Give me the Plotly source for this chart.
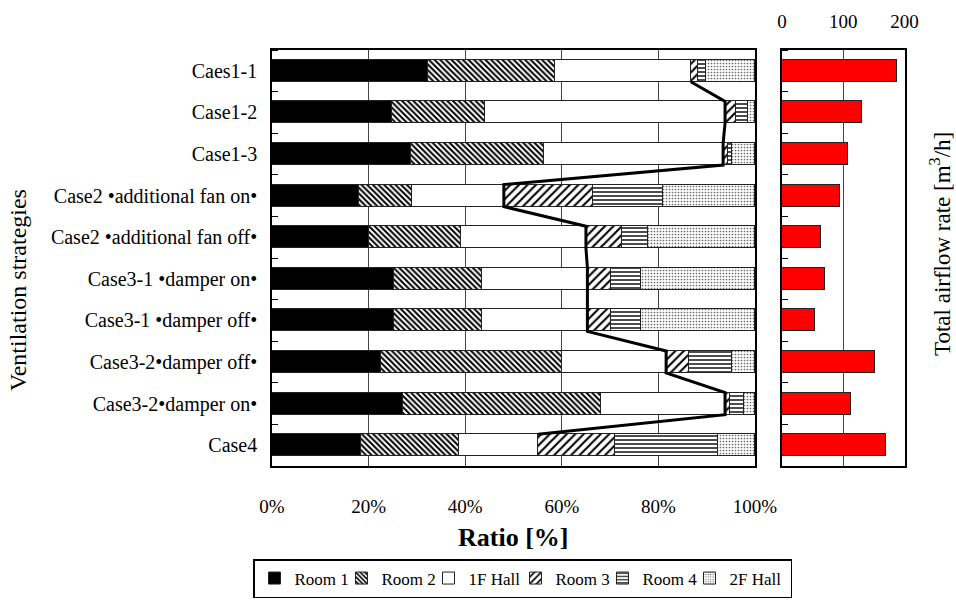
import plotly.graph_objects as go
import numpy as np

cases = ["Caes1-1", "Case1-2", "Case1-3", "Case2 \u2022additional fan on\u2022",
         "Case2 \u2022additional fan off\u2022", "Case3-1 \u2022damper on\u2022",
         "Case3-1 \u2022damper off\u2022", "Case3-2\u2022damper off\u2022",
         "Case3-2\u2022damper on\u2022", "Case4"]
room1 = [32.2, 24.8, 28.8, 18.0, 20.1, 25.3, 25.3, 22.5, 27.2, 18.4]
room2 = [26.4, 19.3, 27.6, 11.0, 19.0, 18.2, 18.2, 37.6, 40.9, 20.4]
hall1f = [28.1, 49.7, 37.0, 19.0, 25.9, 21.8, 21.8, 21.5, 25.7, 16.3]
room3 = [1.6, 2.3, 1.1, 18.5, 7.4, 4.9, 4.9, 4.8, 1.0, 15.9]
room4 = [1.5, 2.4, 0.8, 14.5, 5.5, 6.1, 6.1, 8.9, 2.9, 21.4]
hall2f = [10.2, 1.5, 4.7, 19.0, 22.1, 23.7, 23.7, 4.7, 2.3, 7.6]
airflow = [187, 131, 108, 94, 63, 71, 54, 152, 112, 169]
ratio_ticks = [0, 20, 40, 60, 80, 100]
ratio_ticktext = ["0%", "20%", "40%", "60%", "80%", "100%"]
flow_ticks = [0, 100, 200]

FONT = "Liberation Serif, Times New Roman, serif"
BW = 0.53
ypos = np.arange(len(cases))

fig = go.Figure()

series = [
    ("Room 1", room1, dict(color="black")),
    ("Room 2", room2, dict(color="white", pattern=dict(shape="\\", size=4, solidity=0.5, fgcolor="black", bgcolor="white"))),
    ("1F Hall", hall1f, dict(color="white")),
    ("Room 3", room3, dict(color="white", pattern=dict(shape="/", size=6, solidity=0.35, fgcolor="black", bgcolor="white"))),
    ("Room 4", room4, dict(color="white", pattern=dict(shape="-", size=4, solidity=0.35, fgcolor="black", bgcolor="white"))),
    ("2F Hall", hall2f, dict(color="white", pattern=dict(shape=".", size=3, solidity=0.25, fgcolor="#666", bgcolor="white"))),
]
for k, (name, vals, mk) in enumerate(series):
    mk = dict(mk)
    mk["line"] = dict(color="#222", width=1)
    extra = {"legendwidth": 56} if k == len(series) - 1 else {}
    fig.add_trace(go.Bar(y=ypos, x=vals, orientation="h", name=name, width=BW,
                         marker=mk, xaxis="x", yaxis="y", **extra))

# series line at the end of 1F Hall
cum = np.array(room1) + np.array(room2) + np.array(hall1f)
lx, ly = [], []
for i, c in enumerate(cum):
    if i > 0:
        lx.append(c); ly.append(i - BW / 2)
    if i < len(cum) - 1:
        lx.append(c); ly.append(i + BW / 2)
fig.add_trace(go.Scatter(x=lx, y=ly, mode="lines", line=dict(color="black", width=3),
                         showlegend=False, xaxis="x", yaxis="y", hoverinfo="skip"))

fig.add_trace(go.Bar(y=ypos, x=airflow, orientation="h", width=BW, showlegend=False,
                     marker=dict(color="#ff0000", line=dict(color="#222", width=1)),
                     xaxis="x2", yaxis="y2"))

ydom = [1 - 466 / 604, 1 - 50 / 604]
yax = dict(range=[len(cases) - 0.5, -0.5], showline=True, mirror=True, linecolor="black",
           linewidth=1.5, showgrid=False, zeroline=False, ticks="",
           minor=dict(tickmode="linear", tick0=0.5, dtick=1, ticks="inside", ticklen=6,
                      tickcolor="black", showgrid=False),
           domain=ydom)

fig.update_layout(
    width=956, height=604, margin=dict(l=0, r=0, t=0, b=0),
    template="none", paper_bgcolor="white", plot_bgcolor="white",
    barmode="stack", bargap=0,
    font=dict(family=FONT, size=19, color="black"),
    xaxis=dict(domain=[272 / 956, 755 / 956], range=[0, 100], tickmode="array",
               tickvals=ratio_ticks, ticktext=ratio_ticktext,
               showgrid=True, gridcolor="#444", gridwidth=1, zeroline=False,
               showline=True, mirror=True, linecolor="black", linewidth=1.5, ticks="",
               ticklabelstandoff=22, anchor="y", automargin=False,
               tickfont=dict(family=FONT, size=19)),
    yaxis=dict(yax, tickmode="array", tickvals=list(ypos), ticktext=cases, ticklabelstandoff=9,
               anchor="x", automargin=False, tickfont=dict(family=FONT, size=20)),
    xaxis2=dict(domain=[782 / 956, 904.5 / 956], range=[0, 200], tickmode="array",
                tickvals=flow_ticks, side="top",
                showgrid=True, gridcolor="#444", gridwidth=1, zeroline=False, showline=True,
                mirror=True, linecolor="black", linewidth=1.5, ticks="", anchor="y2",
                ticklabelstandoff=13, automargin=False, tickfont=dict(family=FONT, size=19)),
    yaxis2=dict(yax, showticklabels=False, anchor="x2", automargin=False),
    legend=dict(orientation="h", x=253 / 956, xanchor="left", y=(604 - 598) / 604,
                yanchor="bottom", bordercolor="black", borderwidth=1.5, bgcolor="white",
                font=dict(family=FONT, size=17), itemwidth=30, entrywidth=42,
                traceorder="normal", tracegroupgap=0),
    annotations=[
        dict(text="<b>Ratio [%]</b>", x=513 / 956, y=1 - 537 / 604, xref="paper", yref="paper",
             xanchor="center", yanchor="middle", showarrow=False, font=dict(family=FONT, size=26)),
        dict(text="Ventilation strategies", x=18 / 956, y=1 - 290 / 604, xref="paper", yref="paper",
             xanchor="center", yanchor="middle", showarrow=False, textangle=-90,
             font=dict(family=FONT, size=24)),
        dict(text="Total airflow rate [m<sup>3</sup>/h]", x=940 / 956, y=1 - 244 / 604, xref="paper",
             yref="paper", xanchor="center", yanchor="middle", showarrow=False, textangle=-90,
             font=dict(family=FONT, size=23)),
    ],
)

fig.write_html("out.html", config={"displayModeBar": False},
               post_script="document.body.style.margin='0px';")
